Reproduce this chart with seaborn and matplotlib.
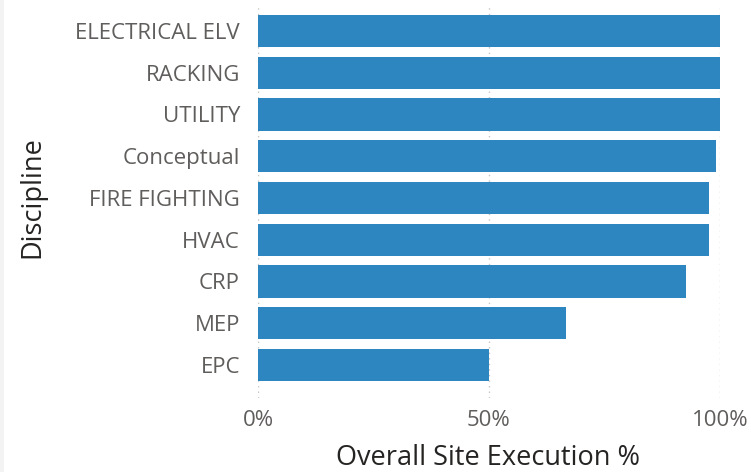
import numpy as np
import pandas as pd
import matplotlib
matplotlib.use("Agg")
import matplotlib.pyplot as plt
import seaborn as sns
from matplotlib.patches import Rectangle
from matplotlib.ticker import PercentFormatter

# Datos
disciplinas = ['ELECTRICAL ELV', 'RACKING', 'UTILITY', 'Conceptual', 'FIRE FIGHTING',
               'HVAC', 'CRP', 'MEP', 'EPC']
ejecucion = [1.00, 1.00, 1.00, 0.991, 0.976, 0.976, 0.926, 0.667, 0.50]

sns.set_theme(style="white")
plt.rcParams['font.family'] = ['Open Sans', 'DejaVu Sans']

df = pd.DataFrame({'Discipline': disciplinas, 'Overall Site Execution %': ejecucion})

fig = plt.figure(figsize=(7.51, 4.72), dpi=100)
ax = fig.add_axes([258 / 751, 1 - 398 / 472, (720 - 258) / 751, (398 - 5) / 472])

# franja gris a la izquierda
fig.patches.append(Rectangle((0, 0), 4 / 751, 1, transform=fig.transFigure,
                             facecolor='#F3F3F3', edgecolor='none', zorder=0))

sns.barplot(data=df, y='Discipline', x='Overall Site Execution %', orient='h',
            color='#2E86C1', saturation=1, width=0.77, linewidth=0, ax=ax, zorder=3)

ax.set_xlim(0, 1)
ax.set_ylim(8.79, -0.62)
ax.set_xticks([0, 0.5, 1])
ax.xaxis.set_major_formatter(PercentFormatter(1.0, decimals=0))
ax.grid(axis='x', linestyle=(0, (1, 3)), color='#C8C6C4', linewidth=1, zorder=0)
ax.set_axisbelow(True)
for s in ax.spines.values():
    s.set_visible(False)

ax.tick_params(axis='y', length=0, pad=13, labelsize=16, labelcolor='#605E5C')
ax.tick_params(axis='x', length=0, pad=9, labelsize=16, labelcolor='#605E5C')

ax.set_xlabel('Overall Site Execution %', fontsize=19.5, color='#252423', labelpad=8,
              fontweight='medium')
ax.set_ylabel('Discipline', fontsize=19.5, color='#252423', labelpad=18,
              fontweight='medium')
ax.yaxis.set_label_coords(32 / 751, 0.5, transform=fig.transFigure)
ax.yaxis.label.set_verticalalignment('center')
ax.yaxis.set_label_coords(32 / 751, 1 - 197 / 472, transform=fig.transFigure)
ax.xaxis.set_label_coords(488 / 751, 1 - 458 / 472, transform=fig.transFigure)
ax.xaxis.label.set_verticalalignment('center')

fig.savefig('out.png', dpi=100)
